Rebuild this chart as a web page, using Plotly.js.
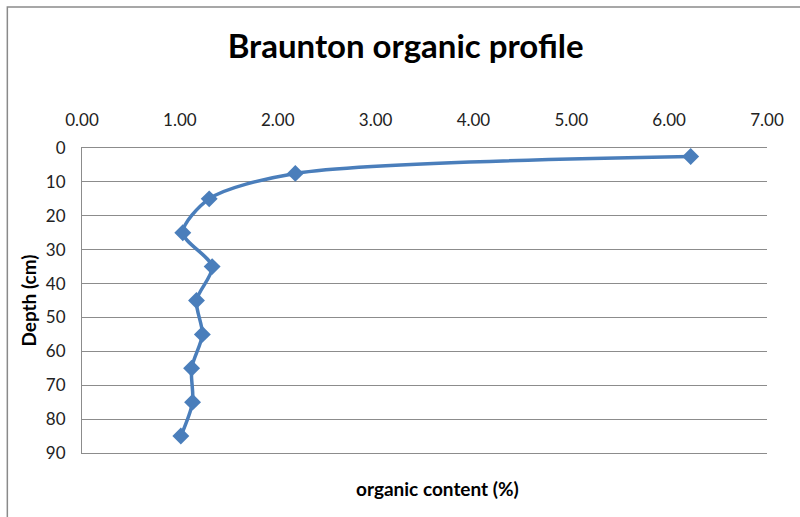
<!DOCTYPE html>
<html>
<head>
<meta charset="utf-8">
<script src="https://cdn.plot.ly/plotly-3.0.1.min.js"></script>
<style>html,body{margin:0;padding:0;background:#fff;}#chart{width:800px;height:517px;}</style>
</head>
<body>
<div id="chart"></div>
<script>
var depth = [2.5, 7.5, 15, 25, 35, 45, 55, 65, 75, 85];
var organic = [6.22, 2.18, 1.30, 1.03, 1.33, 1.17, 1.23, 1.12, 1.13, 1.01];
var xTickVals = [0, 1, 2, 3, 4, 5, 6, 7];
var xTickText = ["0.00", "1.00", "2.00", "3.00", "4.00", "5.00", "6.00", "7.00"];
var yTickVals = [0, 10, 20, 30, 40, 50, 60, 70, 80, 90];

var trace = {
  x: organic, y: depth, type: 'scatter', mode: 'lines+markers',
  line: {color: '#4A7EBB', width: 3.5, shape: 'spline', smoothing: 0.8},
  marker: {symbol: 'diamond', size: 13, color: '#4A7EBB'},
  hoverinfo: 'x+y'
};

var fontFam = 'Lato, "Open Sans", sans-serif';
var layout = {
  width: 800, height: 517,
  margin: {l: 82, r: 33, t: 148, b: 64},
  paper_bgcolor: '#fff', plot_bgcolor: '#fff',
  showlegend: false,
  title: {text: '<b>Braunton organic profile</b>', font: {family: fontFam, size: 33, color: '#000'}, x: 0.507, xanchor: 'center', y: 0.91, yanchor: 'middle'},
  xaxis: {
    side: 'top', range: [0, 7], tickvals: xTickVals, ticktext: xTickText,
    showgrid: false, zeroline: false, showline: true, mirror: true, linecolor: '#8c8c8c', linewidth: 1,
    ticks: '', ticklabelstandoff: 14,
    tickfont: {family: fontFam, size: 17, color: '#222'}
  },
  yaxis: {
    range: [90, 0], tickvals: yTickVals, ticktext: yTickVals.map(String),
    showgrid: true, gridcolor: '#8c8c8c', gridwidth: 1,
    zeroline: false, showline: true, linecolor: '#8c8c8c', linewidth: 1,
    ticks: '', ticklabelstandoff: 12,
    tickfont: {family: fontFam, size: 17, color: '#222'},
    title: {text: '<b>Depth (cm)</b>', font: {family: fontFam, size: 19, color: '#000'}, standoff: 4}
  },
  annotations: [{
    text: '<b>organic content (%)</b>', xref: 'paper', yref: 'paper',
    x: 0.519, y: -0.116, xanchor: 'center', yanchor: 'middle', showarrow: false,
    font: {family: fontFam, size: 19, color: '#000'}
  }],
  shapes: [{
    type: 'rect', xref: 'paper', yref: 'paper', x0: -0.109, x1: 1.2, y0: -0.5, y1: 1.462,
    line: {color: '#8a8a8a', width: 1.5}, layer: 'below'
  }]
};

Plotly.newPlot('chart', [trace], layout, {displayModeBar: false, staticPlot: true});
</script>
</body>
</html>
